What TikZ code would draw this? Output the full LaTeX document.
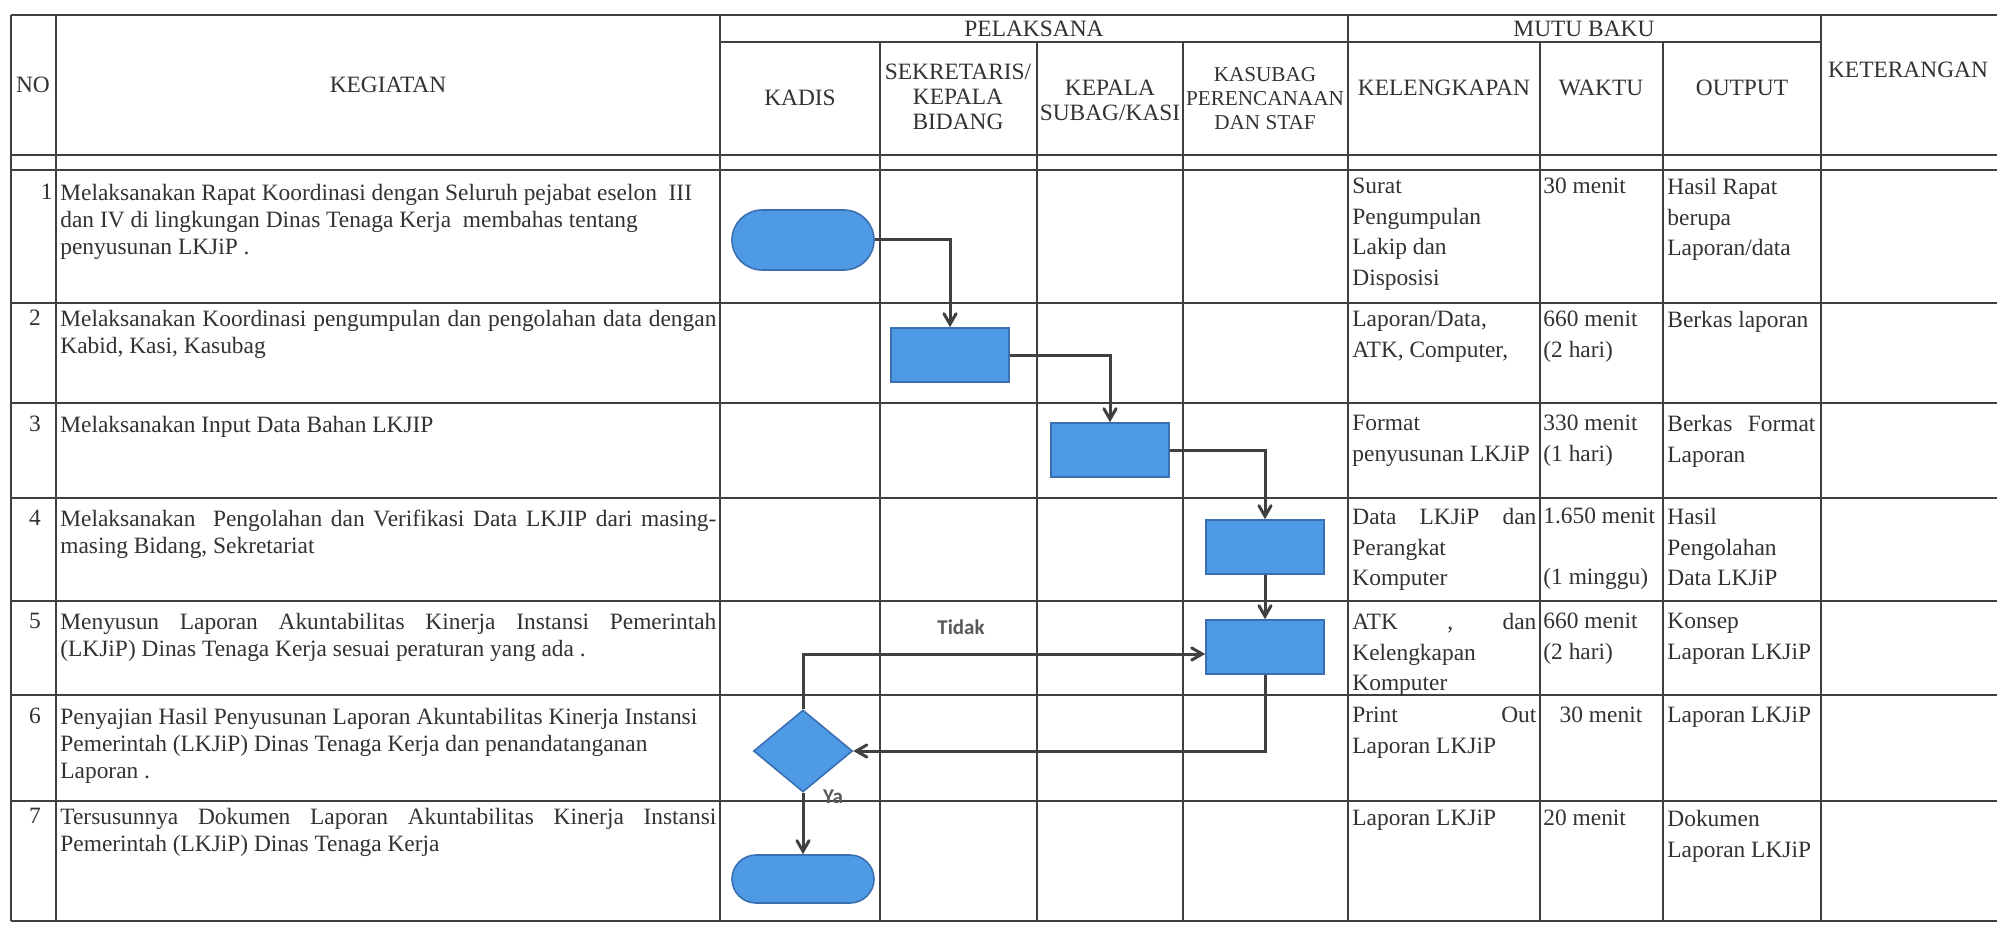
\documentclass[tikz,border=0pt]{standalone}
\usepackage{fontspec}
\setmainfont{Liberation Serif}
\newfontfamily\labelfont{Carlito}
\usetikzlibrary{arrows,shapes.geometric,shapes.misc}
\definecolor{boxblue}{RGB}{79,154,228}
\definecolor{boxedge}{RGB}{58,112,178}
\definecolor{inkgray}{RGB}{50,50,50}
\definecolor{wiregray}{RGB}{64,64,64}
\newcommand{\isifont}{\fontsize{11.7}{13.5}\selectfont}
\newcommand{\mutufont}{\fontsize{11.7}{15.2}\selectfont}
\newcommand{\judulfont}{\fontsize{11.7}{12.5}\selectfont}
\newcommand{\kecilfont}{\fontsize{10.6}{12}\selectfont}
\newcommand{\rata}[2]{\makebox[#1][s]{#2}}

\begin{document}
\begin{tikzpicture}[x=0.5pt,y=-0.5pt]
    \tikzstyle{garis}=[line width=1pt, wiregray]
    \tikzstyle{judul}=[inner sep=0pt, align=center, font=\judulfont, text=inkgray]
    \tikzstyle{isi}=[anchor=north west, inner sep=0pt, align=left, font=\isifont, text=inkgray]
    \tikzstyle{mutu}=[anchor=north west, inner sep=0pt, align=left, font=\mutufont, text=inkgray]
    \tikzstyle{terminal}=[rounded rectangle, draw=boxedge, fill=boxblue, line width=0.8pt, inner sep=0pt, minimum width=71pt]
    \tikzstyle{proses}=[rectangle, draw=boxedge, fill=boxblue, line width=0.8pt, inner sep=0pt, minimum width=59pt, minimum height=27pt]
    \tikzstyle{keputusan}=[diamond, draw=boxedge, fill=boxblue, line width=0.8pt, inner sep=0pt, minimum width=49.5pt, minimum height=41pt]
    \tikzstyle{alur}=[line width=1.5pt, wiregray, ->, >=angle 60]
    \tikzstyle{jawab}=[inner sep=0pt, font=\labelfont\bfseries\fontsize{10.5}{12}\selectfont, text=black!65]

    \fill[white] (0,0) rectangle (1997,925);
    \useasboundingbox (0,0) rectangle (1997,925);

    % table rows
    \draw[garis] (11,15) -- (1997,15);
    \draw[garis] (720,42) -- (1821,42);
    \draw[garis] (11,155) -- (1997,155);
    \draw[garis] (11,170) -- (1997,170);
    \draw[garis] (11,303) -- (1997,303);
    \draw[garis] (11,403) -- (1997,403);
    \draw[garis] (11,498) -- (1997,498);
    \draw[garis] (11,601) -- (1997,601);
    \draw[garis] (11,695) -- (1997,695);
    \draw[garis] (11,801) -- (1997,801);
    \draw[garis] (11,921) -- (1997,921);
    % table columns
    \draw[garis] (11,15) -- (11,921);
    \draw[garis] (56,15) -- (56,921);
    \draw[garis] (720,15) -- (720,921);
    \draw[garis] (880,42) -- (880,921);
    \draw[garis] (1037,42) -- (1037,921);
    \draw[garis] (1183,42) -- (1183,921);
    \draw[garis] (1348,15) -- (1348,921);
    \draw[garis] (1540,42) -- (1540,921);
    \draw[garis] (1663,42) -- (1663,921);
    \draw[garis] (1821,15) -- (1821,921);

    % header
    \node[judul] (hNo) at (33,85) {NO};
    \node[judul] (hKeg) at (388,85) {KEGIATAN};
    \node[judul] (hPel) at (1034,29) {PELAKSANA};
    \node[judul] (hMutu) at (1584,29) {MUTU BAKU};
    \node[judul] (hKet) at (1908,70) {KETERANGAN};
    \node[judul] (hKadis) at (800,98) {KADIS};
    \node[judul] (hSekr) at (958,97) {SEKRETARIS/\\KEPALA\\BIDANG};
    \node[judul] (hKasi) at (1110,100) {KEPALA\\SUBAG/KASI};
    \node[judul, font=\kecilfont] (hStaf) at (1265,99) {KASUBAG\\PERENCANAAN\\DAN STAF};
    \node[judul] (hKel) at (1444,88) {KELENGKAPAN};
    \node[judul] (hWaktu) at (1601,88) {WAKTU};
    \node[judul] (hOut) at (1742,88) {OUTPUT};

    % numbers
    \node[isi, anchor=north east] (no1) at (53,184) {1};
    \node[isi, anchor=north] (no2) at (35,310) {2};
    \node[isi, anchor=north] (no3) at (35,416) {3};
    \node[isi, anchor=north] (no4) at (35,510) {4};
    \node[isi, anchor=north] (no5) at (35,613) {5};
    \node[isi, anchor=north] (no6) at (35,708) {6};
    \node[isi, anchor=north] (no7) at (35,808) {7};

    % kegiatan
    \node[isi] (keg1) at (60,184) {Melaksanakan Rapat Koordinasi dengan Seluruh pejabat eselon\ \ III\\dan IV di lingkungan Dinas Tenaga Kerja\ \ membahas tentang\\penyusunan LKJiP .};
    \node[isi] (keg2) at (60,310) {\rata{328pt}{Melaksanakan Koordinasi pengumpulan dan pengolahan data dengan}\\Kabid, Kasi, Kasubag};
    \node[isi] (keg3) at (60,416) {Melaksanakan Input Data Bahan LKJIP};
    \node[isi] (keg4) at (60,510) {\rata{328pt}{Melaksanakan\ \ Pengolahan dan Verifikasi Data LKJIP dari masing-}\\masing Bidang, Sekretariat};
    \node[isi] (keg5) at (60,613) {\rata{328pt}{Menyusun Laporan Akuntabilitas Kinerja Instansi Pemerintah}\\(LKJiP) Dinas Tenaga Kerja sesuai peraturan yang ada .};
    \node[isi] (keg6) at (60,708) {Penyajian Hasil Penyusunan Laporan Akuntabilitas Kinerja Instansi\\Pemerintah (LKJiP) Dinas Tenaga Kerja dan penandatanganan\\Laporan .};
    \node[isi] (keg7) at (60,808) {\rata{328pt}{Tersusunnya Dokumen Laporan Akuntabilitas Kinerja Instansi}\\Pemerintah (LKJiP) Dinas Tenaga Kerja};

    % kelengkapan
    \node[mutu] (kel1) at (1352,178) {Surat\\Pengumpulan\\Lakip dan\\Disposisi};
    \node[mutu] (kel2) at (1352,311) {Laporan/Data,\\ATK, Computer,};
    \node[mutu] (kel3) at (1352,415) {Format\\penyusunan LKJiP};
    \node[mutu] (kel4) at (1352,508) {\rata{92pt}{Data\ \ LKJiP\ \ dan}\\Perangkat\\Komputer};
    \node[mutu] (kel5) at (1352,613) {\rata{92pt}{ATK , dan}\\Kelengkapan\\Komputer};
    \node[mutu] (kel6) at (1352,707) {\rata{92pt}{Print Out}\\Laporan LKJiP};
    \node[mutu] (kel7) at (1352,810) {Laporan LKJiP};

    % waktu
    \node[mutu] (wak1) at (1543,178) {30 menit};
    \node[mutu] (wak2) at (1543,311) {660 menit\\(2 hari)};
    \node[mutu] (wak3) at (1543,415) {330 menit\\(1 hari)};
    \node[mutu] (wak4) at (1543,508) {1.650 menit\\[15.2pt](1 minggu)};
    \node[mutu] (wak5) at (1543,613) {660 menit\\(2 hari)};
    \node[mutu, anchor=north] (wak6) at (1601,707) {30 menit};
    \node[mutu] (wak7) at (1543,810) {20 menit};

    % output
    \node[mutu] (out1) at (1667,178) {Hasil Rapat\\berupa\\Laporan/data};
    \node[mutu] (out2) at (1667,311) {Berkas laporan};
    \node[mutu] (out3) at (1667,415) {\rata{74pt}{Berkas\ \ Format}\\Laporan};
    \node[mutu] (out4) at (1667,508) {Hasil\\Pengolahan\\Data LKJiP};
    \node[mutu] (out5) at (1667,613) {Konsep\\Laporan LKJiP};
    \node[mutu] (out6) at (1667,707) {Laporan LKJiP};
    \node[mutu] (out7) at (1667,810) {Dokumen\\Laporan LKJiP};

    % flowchart shapes
    \node[terminal, minimum height=30pt] (mulai) at (803,240) {};
    \node[proses] (p2) at (950,355) {};
    \node[proses] (p3) at (1110,450) {};
    \node[proses] (p4) at (1265,547) {};
    \node[proses] (p5) at (1265,647) {};
    \node[keputusan] (cek) at (803,751) {};
    \node[terminal, minimum height=24pt] (selesai) at (803,879) {};

    % flowchart arrows
    \draw[alur] (mulai.east) -| (p2.north);
    \draw[alur] (p2.east) -| (p3.north);
    \draw[alur] (p3.east) -| (p4.north);
    \draw[alur] (p4.south) -- (p5.north);
    \draw[alur] (p5.south) |- (cek.east);
    \draw[alur] (cek.north) |- ([yshift=-3.5pt]p5.west);
    \draw[alur] (cek.south) -- (selesai.north);

    % answers
    \node[jawab] (tidak) at (961,627) {Tidak};
    \node[jawab] (ya) at (833,797) {Ya};

\end{tikzpicture}
\end{document}
